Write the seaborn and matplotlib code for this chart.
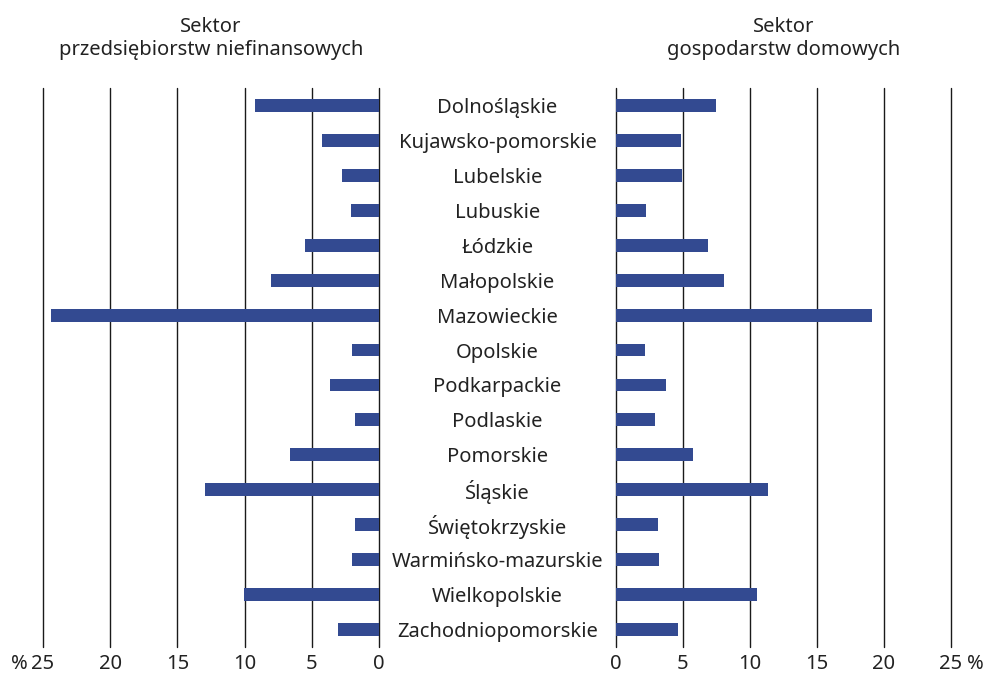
import matplotlib
matplotlib.use("Agg")
import matplotlib.pyplot as plt
import seaborn as sns
import pandas as pd

# regions (voivodeships)
regions = ["Dolnośląskie", "Kujawsko-pomorskie", "Lubelskie", "Lubuskie", "Łódzkie",
           "Małopolskie", "Mazowieckie", "Opolskie", "Podkarpackie", "Podlaskie",
           "Pomorskie", "Śląskie", "Świętokrzyskie", "Warmińsko-mazurskie",
           "Wielkopolskie", "Zachodniopomorskie"]

# Sektor przedsiębiorstw niefinansowych (%)
firms = [9.2, 4.25, 2.75, 2.1, 5.5, 8.05, 24.4, 2.0, 3.65, 1.8,
         6.6, 12.95, 1.8, 2.0, 10.05, 3.05]

# Sektor gospodarstw domowych (%)
households = [7.45, 4.85, 4.95, 2.25, 6.85, 8.05, 19.1, 2.2, 3.75, 2.9,
              5.75, 11.35, 3.1, 3.2, 10.5, 4.65]

ticks = [0, 5, 10, 15, 20, 25]

df = pd.DataFrame({"region": regions, "firms": firms, "households": households})

bar_color = "#334A91"
text_color = "#222222"
fs = 14.5

sns.set_style("white")
plt.rcParams["font.family"] = ["Noto Sans", "DejaVu Sans"]

fig = plt.figure(figsize=(9.87, 6.75), dpi=100)
ax_l = fig.add_axes([43 / 987, 1 - 647 / 675, 336 / 987, 559 / 675])
ax_r = fig.add_axes([616 / 987, 1 - 647 / 675, 335 / 987, 559 / 675])

# left panel: firms, reversed axis
sns.barplot(data=df, x="firms", y="region", orient="h", color=bar_color,
            saturation=1, width=0.37, linewidth=0, ax=ax_l)
ax_l.set_xlim(25, 0)
ax_l.set_yticks([])

# right panel: households
sns.barplot(data=df, x="households", y="region", orient="h", color=bar_color,
            saturation=1, width=0.37, linewidth=0, ax=ax_r)
ax_r.set_xlim(0, 25)
# region names sit in the gap between the panels (pad in points)
ax_r.tick_params(axis="y", length=0, pad=85.3, labelsize=fs, labelcolor=text_color)
for lab in ax_r.get_yticklabels():
    lab.set_horizontalalignment("center")

for ax in (ax_l, ax_r):
    ax.set_ylim(15.5, -0.5)
    ax.set_xticks(ticks)
    ax.set_xticklabels([str(t) for t in ticks])
    ax.tick_params(axis="x", length=0, pad=5, labelsize=fs, labelcolor=text_color)
    ax.grid(axis="x", color="#1a1a1a", linewidth=1)
    for gl in ax.get_xgridlines():
        gl.set_clip_on(False)
    ax.set_axisbelow(True)
    for p in ax.patches:
        p.set_zorder(3)
    ax.set_xlabel("")
    ax.set_ylabel("")
    sns.despine(ax=ax, left=True, bottom=True)

# percent signs next to the 25 tick
ax_l.annotate("%", xy=(25, 0), xycoords=("data", "axes fraction"),
              xytext=(-11, -5), textcoords="offset points",
              ha="right", va="top", fontsize=fs, color=text_color)
ax_r.annotate("%", xy=(25, 0), xycoords=("data", "axes fraction"),
              xytext=(11.5, -5), textcoords="offset points",
              ha="left", va="top", fontsize=fs, color=text_color)

ax_l.set_title("Sektor\nprzedsiębiorstw niefinansowych", fontsize=fs,
               color=text_color, pad=24, linespacing=1.2)
ax_r.set_title("Sektor\ngospodarstw domowych", fontsize=fs,
               color=text_color, pad=24, linespacing=1.2)

fig.savefig("out.png", dpi=100)
